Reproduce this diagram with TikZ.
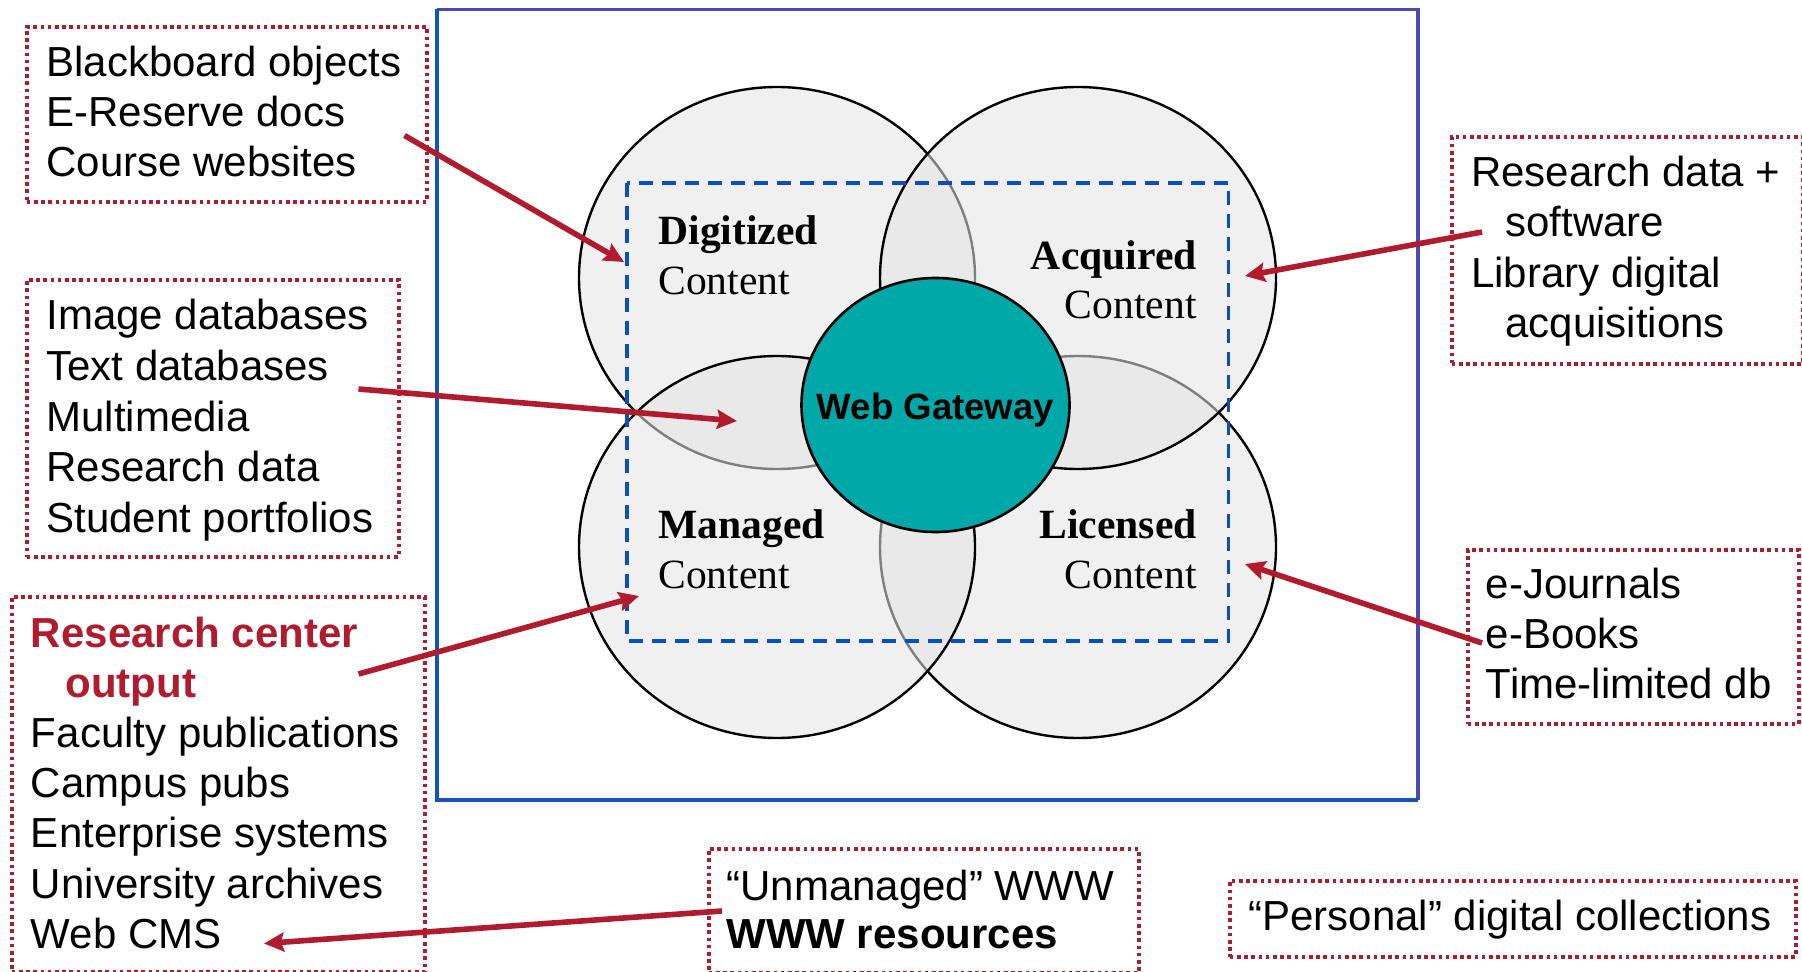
\documentclass[tikz,border=0pt]{standalone}
\usepackage{fontspec}
\setmainfont{Liberation Serif}
\setsansfont{Liberation Sans}
\usetikzlibrary{arrows.meta,shapes.geometric}
\definecolor{rd}{HTML}{B01C2E}
\definecolor{obA}{HTML}{4A4AB4}
\definecolor{obB}{HTML}{1452BE}
\definecolor{dsh}{HTML}{0A4EC0}
\definecolor{gwteal}{HTML}{00A8A8}
\definecolor{cfill}{HTML}{E4E4E4}
\begin{document}
\begin{tikzpicture}[x=0.5pt,y=-0.5pt,
  txt/.style={font=\fontsize{21}{25}\selectfont\sffamily, inner sep=0pt, anchor=base west},
  rtxt/.style={txt, text=rd, font=\fontsize{21}{25}\selectfont\sffamily\bfseries},
  lbl/.style={font=\fontsize{20.8}{25}\selectfont\rmfamily, inner sep=0pt},
  venn/.style={ellipse, minimum width=198pt, minimum height=191pt, inner sep=0pt,
    draw=black, line width=1.2pt, fill=cfill, fill opacity=0.56},
  dotbox/.style={draw=rd, line width=1.8pt, dash pattern=on 1.8pt off 1.8pt,
    inner sep=0pt, anchor=north west},
  arr/.style={draw=rd, line width=2.8pt, -{Stealth[length=10pt,width=9.5pt,inset=1.5pt]}}]
\useasboundingbox (0,0) rectangle (1802,972);
% outer frame
\coordinate (o1) at (437,9.5);
\coordinate (o2) at (1418,9.5);
\coordinate (o3) at (1418,800);
\coordinate (o4) at (437,800);
\draw[obA, line width=1.8pt] (o1) -- (o2) -- (o3);
\draw[obB, line width=1.8pt] (o1) -- (o4) -- (o3);
% circles
\node[venn] (dig) at (777,278) {};
\node[venn] (lic) at (1078,547) {};
\node[venn] (acq) at (1078,278) {};
\node[venn] (man) at (777,547) {};
% dashed rect
\coordinate (d1) at (627,183);
\coordinate (d2) at (1228.5,641);
\draw[dsh, line width=1.8pt, dash pattern=on 7pt off 4.5pt] (d1) rectangle (d2);
% gateway
\node[ellipse, minimum width=134pt, minimum height=127pt, inner sep=0pt,
  fill=gwteal, draw=black, line width=1.3pt] (gw) at (935.5,405) {};
\node[inner sep=0pt, text depth=0pt, font=\fontsize{18.3}{20}\selectfont\sffamily\bfseries] (gwt) at ([yshift=-0.5pt]gw.center) {Web Gateway};
% labels
\node[lbl, anchor=base west, font=\fontsize{20.8}{25}\selectfont\rmfamily\bfseries] (digA) at (658,245) {Digitized};
\node[lbl, anchor=base west] (digB) at (658,295) {Content};
\node[lbl, anchor=base east, font=\fontsize{20.8}{25}\selectfont\rmfamily\bfseries] (acqA) at (1197,270) {Acquired};
\node[lbl, anchor=base east] (acqB) at (1197,319) {Content};
\node[lbl, anchor=base west, font=\fontsize{20.8}{25}\selectfont\rmfamily\bfseries] (manA) at (658,538) {Managed};
\node[lbl, anchor=base west] (manB) at (658,588) {Content};
\node[lbl, anchor=base east, font=\fontsize{20.8}{25}\selectfont\rmfamily\bfseries] (licA) at (1197,538) {Licensed};
\node[lbl, anchor=base east] (licB) at (1197,588) {Content};
% dotted boxes
\node[dotbox, minimum width=200pt, minimum height=87.5pt] (box1) at (25,25) {};
\node[dotbox, minimum width=186pt, minimum height=138.5pt] (box2) at (25,278) {};
\node[dotbox, minimum width=206.5pt, minimum height=187.5pt] (box3) at (10,595) {};
\node[dotbox, minimum width=175.5pt, minimum height=113.5pt] (box4) at (1450,135) {};
\node[dotbox, minimum width=165.5pt, minimum height=87pt] (box5) at (1466,548) {};
\node[dotbox, minimum width=215pt, minimum height=62pt] (box6) at (707,847) {};
\node[dotbox, minimum width=283pt, minimum height=38pt] (box7) at (1228,879) {};
% box texts
\foreach \t [count=\i from 0] in {Blackboard objects, E-Reserve docs, Course websites}
  \node[txt] (t1\i) at (46,76.7+50*\i) {\t};
\foreach \t [count=\i from 0] in {Image databases, Text databases, Multimedia, Research data, Student portfolios}
  \node[txt] (t2\i) at (46,330+50.5*\i) {\t};
\node[rtxt] (t3a) at (30.6,647) {Research center};
\node[rtxt] (t3b) at (65,697) {output};
\foreach \t [count=\i from 0] in {Faculty publications, Campus pubs, Enterprise systems, University archives, Web CMS}
  \node[txt] (t3\i) at (30.6,747.5+50.2*\i) {\t};
\node[txt] (t4a) at (1470.6,186.7) {Research data +};
\node[txt] (t4b) at (1505,237) {software};
\node[txt] (t4c) at (1470.6,287.5) {Library digital};
\node[txt] (t4d) at (1505,338) {acquisitions};
\foreach \t [count=\i from 0] in {e-Journals, e-Books, Time-limited db}
  \node[txt] (t5\i) at (1485.5,598+50*\i) {\t};
\node[txt] (t6a) at (726,900) {“Unmanaged” WWW};
\node[txt, font=\fontsize{21}{25}\selectfont\sffamily\bfseries] (t6b) at (726,948) {WWW resources};
\node[txt] (t7) at (1248,930) {“Personal” digital collections};
% arrows
\coordinate (a1s) at (404.5,135.5); \coordinate (a1e) at (624,262);
\coordinate (a2s) at (358.5,389);   \coordinate (a2e) at (737,421);
\coordinate (a3s) at (358.5,674);   \coordinate (a3e) at (639,596);
\coordinate (a4s) at (1482,232);    \coordinate (a4e) at (1245,276);
\coordinate (a5s) at (1482,643);    \coordinate (a5e) at (1245,564);
\coordinate (a6s) at (722,911);     \coordinate (a6e) at (264,943.5);
\draw[arr] (a1s) -- (a1e);
\draw[arr] (a2s) -- (a2e);
\draw[arr] (a3s) -- (a3e);
\draw[arr] (a4s) -- (a4e);
\draw[arr] (a5s) -- (a5e);
\draw[arr] (a6s) -- (a6e);
\end{tikzpicture}
\end{document}
